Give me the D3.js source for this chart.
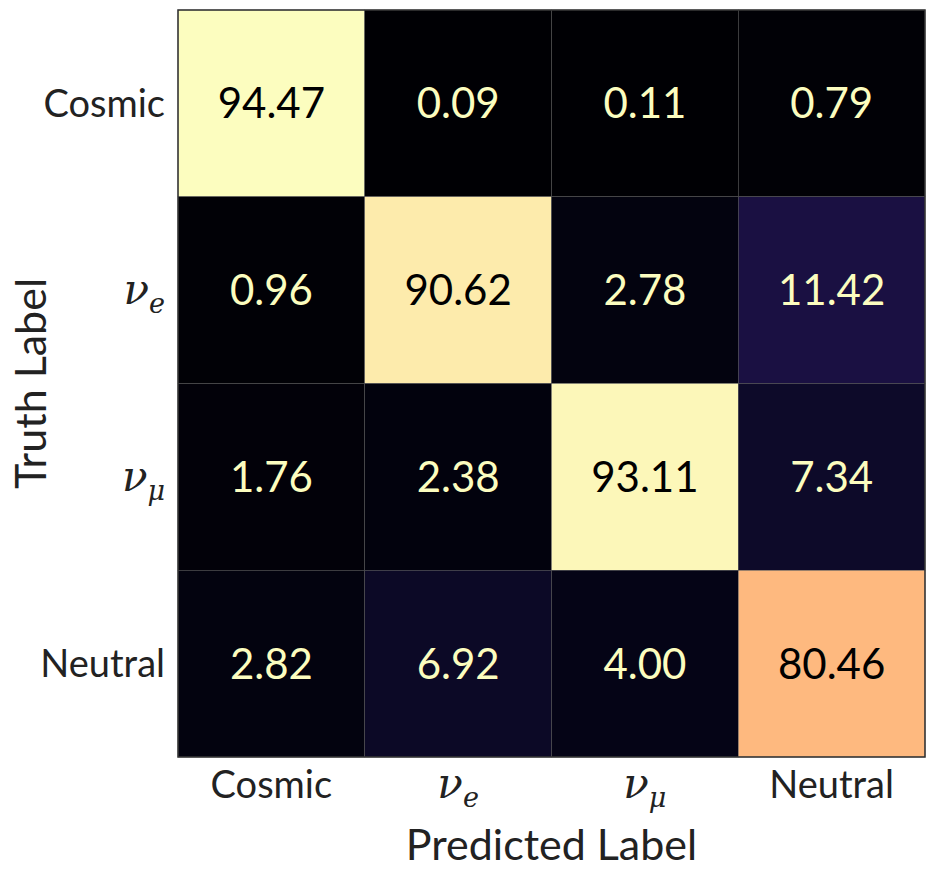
<!DOCTYPE html>
<html lang="en">
<head>
    <meta charset="UTF-8">
    <title>Confusion Matrix</title>
    <style>
        body { margin: 0; background: #fff; }
        .tick-label { font-family: Lato, "DejaVu Sans", sans-serif; font-size: 38px; fill: #222; }
        .math { font-family: "DejaVu Serif", serif; font-style: italic; }
        .axis-title { font-family: Lato, "DejaVu Sans", sans-serif; font-size: 43px; fill: #222; }
        .value { font-family: Lato, "DejaVu Sans", sans-serif; font-size: 42px; }
    </style>
</head>
<body>
    <div id="chart"></div>
    <script src="https://d3js.org/d3.v7.min.js"></script>
    <script>
        const classes = ["Cosmic", "nu_e", "nu_mu", "Neutral"];
        // rows = truth, cols = predicted
        const row0 = [94.47, 0.09, 0.11, 0.79];
        const row1 = [0.96, 90.62, 2.78, 11.42];
        const row2 = [1.76, 2.38, 93.11, 7.34];
        const row3 = [2.82, 6.92, 4.00, 80.46];
        const matrix = [row0, row1, row2, row3];

        const width = 934, height = 879;
        const marginLeft = 178, marginTop = 10, size = 747;

        const svg = d3.select("#chart").append("svg")
            .attr("width", width)
            .attr("height", height);

        const x = d3.scaleBand().domain(classes).range([marginLeft, marginLeft + size]);
        const y = d3.scaleBand().domain(classes).range([marginTop, marginTop + size]);

        const maxVal = d3.max(matrix.flat());
        const color = d3.scaleSequential(d3.interpolateMagma).domain([0, maxVal]);

        const cells = [];
        matrix.forEach((row, i) => row.forEach((v, j) => cells.push({ truth: classes[i], pred: classes[j], v: v })));

        svg.append("g")
            .selectAll("rect")
            .data(cells)
            .enter()
            .append("rect")
            .attr("x", d => x(d.pred))
            .attr("y", d => y(d.truth))
            .attr("width", x.bandwidth())
            .attr("height", y.bandwidth())
            .attr("fill", d => color(d.v))
            .attr("stroke", "#555")
            .attr("stroke-width", 0.5);

        svg.append("g")
            .selectAll("text")
            .data(cells)
            .enter()
            .append("text")
            .attr("class", "value")
            .attr("x", d => x(d.pred) + x.bandwidth() / 2)
            .attr("y", d => y(d.truth) + y.bandwidth() / 2)
            .attr("dy", "0.36em")
            .attr("text-anchor", "middle")
            .attr("fill", d => d.v > maxVal / 2 ? "#000" : "#fcfdbf")
            .text(d => d.v.toFixed(2));

        // frame
        svg.append("rect")
            .attr("x", marginLeft).attr("y", marginTop)
            .attr("width", size).attr("height", size)
            .attr("fill", "none")
            .attr("stroke", "#333")
            .attr("stroke-width", 1.5);

        function writeLabel(sel, name) {
            if (name.startsWith("nu_")) {
                sel.append("tspan").attr("class", "math").attr("font-size", "42px").text("\u03bd");
                sel.append("tspan").attr("class", "math").attr("font-size", "27px").attr("dy", "9")
                    .text(name === "nu_e" ? "e" : "\u03bc");
            } else {
                sel.text(name);
            }
        }

        // y tick labels
        svg.append("g")
            .selectAll("text")
            .data(classes)
            .enter()
            .append("text")
            .attr("class", "tick-label")
            .attr("x", 165)
            .attr("y", d => y(d) + y.bandwidth() / 2)
            .attr("dy", "0.36em")
            .attr("text-anchor", "end")
            .each(function(d) { writeLabel(d3.select(this), d); });

        // x tick labels
        svg.append("g")
            .selectAll("text")
            .data(classes)
            .enter()
            .append("text")
            .attr("class", "tick-label")
            .attr("x", d => x(d) + x.bandwidth() / 2)
            .attr("y", 798)
            .attr("text-anchor", "middle")
            .each(function(d) { writeLabel(d3.select(this), d); });

        svg.append("text")
            .attr("class", "axis-title")
            .attr("x", marginLeft + size / 2)
            .attr("y", 860)
            .attr("text-anchor", "middle")
            .text("Predicted Label");

        svg.append("text")
            .attr("class", "axis-title")
            .attr("transform", `translate(46,${marginTop + size / 2}) rotate(-90)`)
            .attr("text-anchor", "middle")
            .text("Truth Label");
    </script>
</body>
</html>
